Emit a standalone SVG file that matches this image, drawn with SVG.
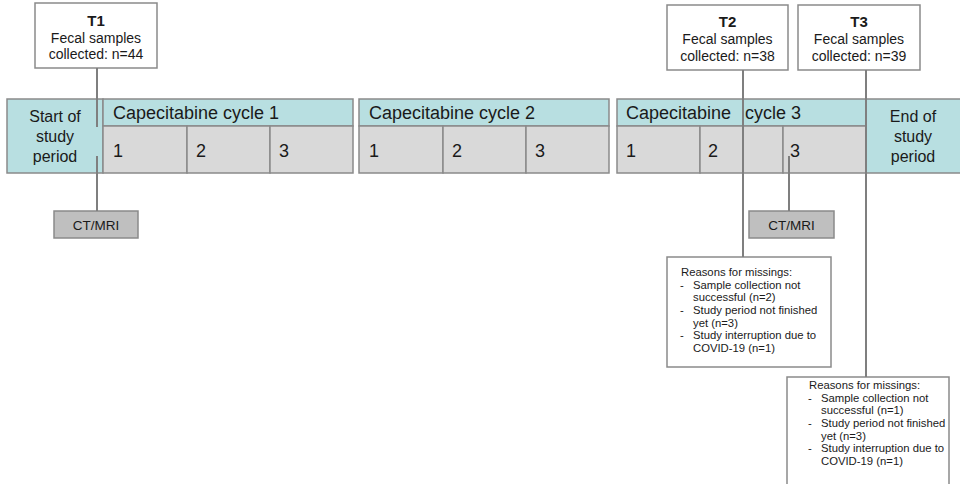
<svg xmlns="http://www.w3.org/2000/svg" width="960" height="484" viewBox="0 0 960 484">
<style>
text{font-family:"Liberation Sans",Arial,sans-serif;fill:#1a1a1a}
.box{fill:#fff;stroke:#8a8a8a;stroke-width:1.5}
.blue{fill:#b8dfe1;stroke:#8a8a8a;stroke-width:1.5}
.cell{fill:#d9d9d9;stroke:#8a8a8a;stroke-width:1.5}
.ct{fill:#bfbfbf;stroke:#8a8a8a;stroke-width:1.5}
.ln{stroke:#7f7f7f;stroke-width:2;fill:none}
.t{font-size:15px;font-weight:bold;text-anchor:middle}
.s{font-size:14px;text-anchor:middle}
.h{font-size:18px}
.n{font-size:18px}
.p{font-size:16px;text-anchor:middle}
.c{font-size:13.5px;text-anchor:middle}
.r{font-size:11.3px}
</style>
<rect width="960" height="484" fill="#fff"/>
<g id="t1">
<rect class="box" x="35" y="3" width="122" height="65"/>
<text class="t" x="96" y="26">T1</text>
<text class="s" x="96" y="43">Fecal samples</text>
<text class="s" x="96" y="59">collected: n=44</text>
</g>
<g id="t2">
<rect class="box" x="667" y="5" width="121" height="65"/>
<text class="t" x="727.5" y="27">T2</text>
<text class="s" x="727.5" y="44">Fecal samples</text>
<text class="s" x="727.5" y="61">collected: n=38</text>
</g>
<g id="t3">
<rect class="box" x="798" y="5" width="122" height="65"/>
<text class="t" x="859" y="27">T3</text>
<text class="s" x="859" y="44">Fecal samples</text>
<text class="s" x="859" y="61">collected: n=39</text>
</g>
<g id="start">
<rect class="blue" x="7" y="99" width="96" height="74"/>
<text class="p" x="55" y="122">Start of</text>
<text class="p" x="55" y="142">study</text>
<text class="p" x="55" y="162">period</text>
</g>
<g id="cycle1">
<rect class="blue" x="103" y="99" width="250" height="27"/>
<text class="h" x="113" y="119">Capecitabine cycle 1</text>
<rect class="cell" x="103" y="126" width="84" height="47"/>
<rect class="cell" x="187" y="126" width="83" height="47"/>
<rect class="cell" x="270" y="126" width="83" height="47"/>
<text class="n" x="113" y="157">1</text>
<text class="n" x="196" y="157">2</text>
<text class="n" x="279" y="157">3</text>
</g>
<g id="cycle2">
<rect class="blue" x="359" y="99" width="250" height="27"/>
<text class="h" x="369" y="119">Capecitabine cycle 2</text>
<rect class="cell" x="359" y="126" width="84" height="47"/>
<rect class="cell" x="443" y="126" width="83" height="47"/>
<rect class="cell" x="526" y="126" width="83" height="47"/>
<text class="n" x="369" y="157">1</text>
<text class="n" x="452" y="157">2</text>
<text class="n" x="535" y="157">3</text>
</g>
<g id="cycle3">
<rect class="blue" x="617" y="99" width="249" height="27"/>
<text class="h" x="626" y="119">Capecitabine<tspan x="745">cycle 3</tspan></text>
<rect class="cell" x="617" y="126" width="83" height="47"/>
<rect class="cell" x="700" y="126" width="83" height="47"/>
<rect class="cell" x="783" y="126" width="83" height="47"/>
<text class="n" x="626" y="157">1</text>
<text class="n" x="708" y="157">2</text>
<text class="n" x="790" y="157">3</text>
</g>
<g id="end">
<rect class="blue" x="866" y="99" width="96" height="74"/>
<text class="p" x="913" y="122">End of</text>
<text class="p" x="913" y="142">study</text>
<text class="p" x="913" y="162">period</text>
</g>
<g id="ct1">
<rect class="ct" x="54" y="211" width="84" height="27"/>
<text class="c" x="96" y="230">CT/MRI</text>
</g>
<g id="ct2">
<rect class="ct" x="749" y="211" width="85" height="27"/>
<text class="c" x="791.5" y="230">CT/MRI</text>
</g>
<g id="reasons2">
<rect class="box" x="667" y="257" width="164" height="110"/>
<text class="r" x="681" y="276">Reasons for missings:</text>
<text class="r" x="680" y="289">-</text>
<text class="r" x="693" y="289">Sample collection not</text>
<text class="r" x="693" y="301">successful (n=2)</text>
<text class="r" x="680" y="314">-</text>
<text class="r" x="693" y="314">Study period not finished</text>
<text class="r" x="693" y="327">yet (n=3)</text>
<text class="r" x="680" y="339">-</text>
<text class="r" x="693" y="339">Study interruption due to</text>
<text class="r" x="693" y="352">COVID-19 (n=1)</text>
</g>
<g id="reasons3">
<rect class="box" x="787" y="377" width="162" height="112"/>
<text class="r" x="809" y="389">Reasons for missings:</text>
<text class="r" x="808" y="402">-</text>
<text class="r" x="821" y="402">Sample collection not</text>
<text class="r" x="821" y="414">successful (n=1)</text>
<text class="r" x="808" y="427">-</text>
<text class="r" x="821" y="427">Study period not finished</text>
<text class="r" x="821" y="440">yet (n=3)</text>
<text class="r" x="808" y="452">-</text>
<text class="r" x="821" y="452">Study interruption due to</text>
<text class="r" x="821" y="465">COVID-19 (n=1)</text>
</g>
<g id="connectors">
<line class="ln" x1="97" y1="68" x2="97" y2="127"/>
<line class="ln" x1="97" y1="156" x2="97" y2="211"/>
<line class="ln" x1="743" y1="70" x2="743" y2="257"/>
<line class="ln" x1="866" y1="70" x2="866" y2="377"/>
<line class="ln" x1="789" y1="156" x2="789" y2="211"/>
</g>
</svg>
